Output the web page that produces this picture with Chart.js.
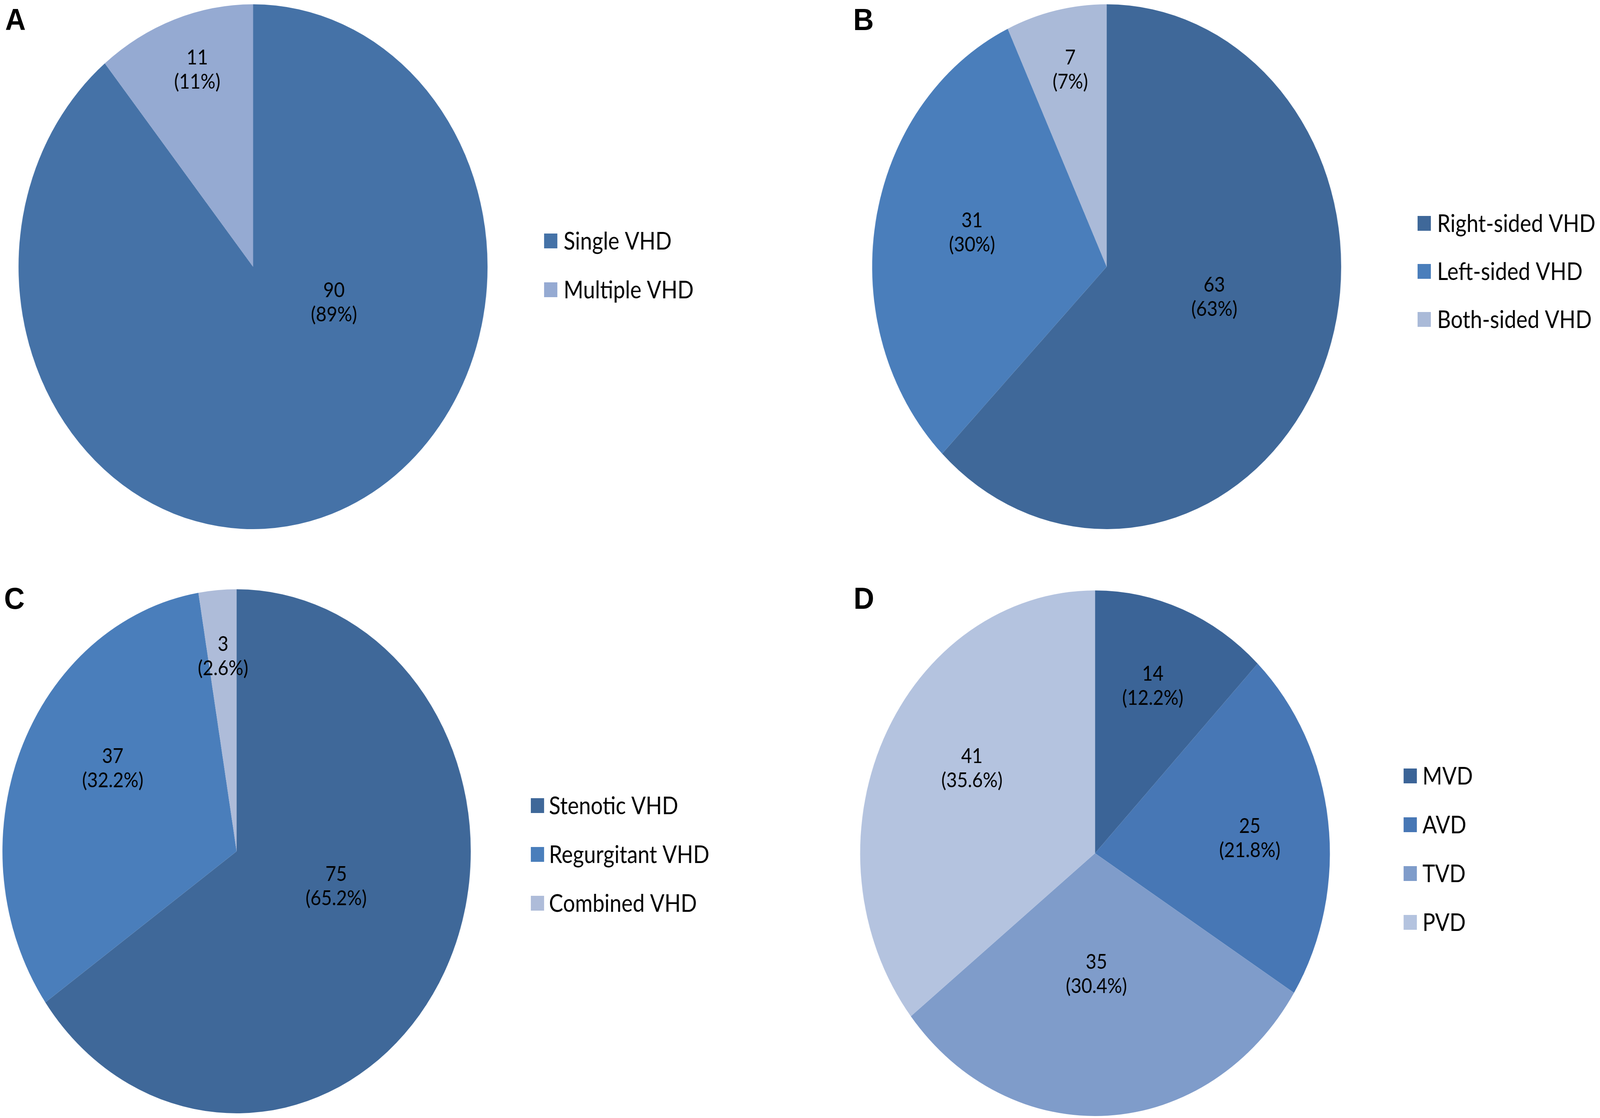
<!DOCTYPE html>
<html>
<head>
<meta charset="utf-8">
<script src="https://cdn.jsdelivr.net/npm/chart.js@4.4.1/dist/chart.umd.min.js"></script>
<style>
html,body{margin:0;padding:0;background:#fff;overflow:hidden}
#stage{position:absolute;left:0;top:0;width:4328px;height:2863px;transform-origin:0 0}
#wrap{position:absolute;left:0;top:0;width:4584px;height:2863px;transform:scaleX(0.944);transform-origin:0 0}
#wrap canvas{position:absolute}
.tag{position:absolute;font-family:"Liberation Sans",Arial,sans-serif;font-weight:bold;font-size:77px;line-height:77px;color:#000}
</style>
</head>
<body>
<div id="stage">
<div id="wrap">
  <canvas id="cA" width="2292" height="1431" style="left:0px;top:0px;width:2292px;height:1431px"></canvas>
  <canvas id="cB" width="2292" height="1431" style="left:2292px;top:0px;width:2292px;height:1431px"></canvas>
  <canvas id="cC" width="2292" height="1432" style="left:0px;top:1431px;width:2292px;height:1432px"></canvas>
  <canvas id="cD" width="2292" height="1432" style="left:2292px;top:1431px;width:2292px;height:1432px"></canvas>
</div>
<div class="tag" style="left:14px;top:12px">A</div>
<div class="tag" style="left:2308px;top:12px">B</div>
<div class="tag" style="left:11px;top:1494px">C</div>
<div class="tag" style="left:2309px;top:1494px">D</div>
</div>
<script>
// ---- data ----
const labelsA = ['Single VHD', 'Multiple VHD'];
const countsA = [90, 11];
const pctsA = [89, 11];

const labelsB = ['Right-sided VHD', 'Left-sided VHD', 'Both-sided VHD'];
const countsB = [63, 31, 7];
const pctsB = [63, 30, 7];

const labelsC = ['Stenotic VHD', 'Regurgitant VHD', 'Combined VHD'];
const countsC = [75, 37, 3];
const pctsC = [65.2, 32.2, 2.6];

const labelsD = ['MVD', 'AVD', 'TVD', 'PVD'];
const countsD = [14, 25, 35, 41];
const pctsD = [12.2, 21.8, 30.4, 35.6];

// ---- styles / layout ----
const colorsA = ['#4572A7', '#95AAD2'];
const colorsB = ['#3F6899', '#4A7EBB', '#AABAD8'];
const colorsC = ['#3F6899', '#4A7EBB', '#AEBCD9'];
const colorsD = ['#3B6497', '#4777B5', '#7F9CCA', '#B4C3DF'];

const FONT = 'Lato, "Open Sans", sans-serif';
const TEXT = '#000000';

// label anchor offsets, in units of pie radius, relative to pie centre
const offsA = [[0.345, 0.137], [-0.238, -0.750]];
const offsB = [[0.459, 0.116], [-0.574, -0.129], [-0.155, -0.750]];
const offsC = [[0.425, 0.134], [-0.529, -0.316], [-0.058, -0.744]];
const offsD = [[0.246, -0.636], [0.659, -0.056], [0.006, 0.461], [-0.524, -0.322]];

const layouts = {
  A: {W: 2292, H: 1431, cx: 725.1, cy: 683, r: 672, boxX: 1559, textX: 1615, rowY: 617, step: 125},
  B: {W: 2292, H: 1431, cx: 879.1, cy: 683, r: 672, boxX: 1770, textX: 1826, rowY: 572, step: 123},
  C: {W: 2292, H: 1432, cx: 678.0, cy: 749, r: 671, boxX: 1521, textX: 1573, rowY: 632, step: 125},
  D: {W: 2292, H: 1432, cx: 845.7, cy: 754, r: 673, boxX: 1730, textX: 1784, rowY: 556, step: 125}
};

// fit the 4328x2863 design to the actual viewport
const sx = window.innerWidth / 4328, sy = window.innerHeight / 2863;
document.getElementById('stage').style.transform = 'scale(' + sx + ',' + sy + ')';

function makeOverlay(offsets, pcts, lay) {
  return {
    id: 'overlay',
    afterDatasetsDraw(chart) {
      const ctx = chart.ctx;
      const ds = chart.data.datasets[0];
      const meta = chart.getDatasetMeta(0);
      ctx.save();
      ctx.font = '53px ' + FONT;
      ctx.fillStyle = TEXT;
      ctx.textAlign = 'center';
      ctx.textBaseline = 'middle';
      meta.data.forEach((arc, i) => {
        const x = arc.x + offsets[i][0] * arc.outerRadius;
        const y = arc.y + offsets[i][1] * arc.outerRadius;
        ctx.fillText(String(ds.data[i]), x, y - 31);
        ctx.fillText('(' + pcts[i] + '%)', x, y + 31);
      });
      ctx.textAlign = 'left';
      ctx.font = '61px ' + FONT;
      chart.data.labels.forEach((lab, i) => {
        const yc = lay.rowY + i * lay.step;
        ctx.fillStyle = ds.backgroundColor[i];
        ctx.fillRect(lay.boxX, yc - 19, 38, 38);
        ctx.fillStyle = TEXT;
        ctx.fillText(lab, lay.textX, yc + 2);
      });
      ctx.restore();
    }
  };
}

function pie(id, labels, counts, colors, offsets, pcts, lay) {
  new Chart(document.getElementById(id), {
    type: 'pie',
    data: {
      labels: labels,
      datasets: [{data: counts, backgroundColor: colors, borderWidth: 0}]
    },
    options: {
      responsive: false,
      animation: false,
      devicePixelRatio: 1,
      layout: {
        padding: {
          left: lay.cx - lay.r,
          top: lay.cy - lay.r,
          right: lay.W - lay.cx - lay.r,
          bottom: lay.H - lay.cy - lay.r
        }
      },
      plugins: {legend: {display: false}, tooltip: {enabled: false}}
    },
    plugins: [makeOverlay(offsets, pcts, lay)]
  });
}

pie('cA', labelsA, countsA, colorsA, offsA, pctsA, layouts.A);
pie('cB', labelsB, countsB, colorsB, offsB, pctsB, layouts.B);
pie('cC', labelsC, countsC, colorsC, offsC, pctsC, layouts.C);
pie('cD', labelsD, countsD, colorsD, offsD, pctsD, layouts.D);
</script>
</body>
</html>
